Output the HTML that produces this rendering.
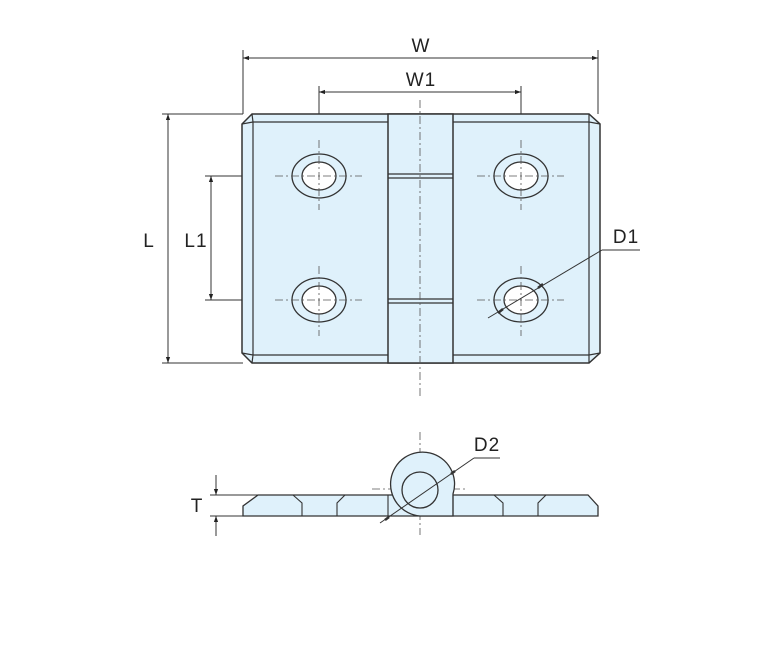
<!DOCTYPE html>
<html><head><style>html,body{margin:0;padding:0;background:#fff}svg{display:block}</style></head>
<body>
<svg width="784" height="668" viewBox="0 0 784 668" xmlns="http://www.w3.org/2000/svg">
<defs>
<marker id="a" viewBox="0 0 10 10" refX="10" refY="5" markerWidth="9" markerHeight="6" orient="auto-start-reverse" markerUnits="userSpaceOnUse"><path d="M0,1.5 L10,5 L0,8.5z" fill="#222"/></marker>
</defs>
<g stroke="#333" stroke-width="1" fill="none">
<line x1="243" y1="50" x2="243" y2="114"/>
<line x1="598" y1="50" x2="598" y2="114"/>
<line x1="319" y1="86" x2="319" y2="150"/>
<line x1="521" y1="86" x2="521" y2="150"/>
<line x1="243" y1="58" x2="598" y2="58" marker-start="url(#a)" marker-end="url(#a)"/>
<line x1="319" y1="92" x2="521" y2="92" marker-start="url(#a)" marker-end="url(#a)"/>
<line x1="162" y1="114" x2="243" y2="114"/>
<line x1="162" y1="363" x2="243" y2="363"/>
<line x1="168" y1="114" x2="168" y2="363" marker-start="url(#a)" marker-end="url(#a)"/>
<line x1="205" y1="176" x2="292" y2="176"/>
<line x1="205" y1="300" x2="292" y2="300"/>
<line x1="211" y1="176" x2="211" y2="300" marker-start="url(#a)" marker-end="url(#a)"/>
</g>
<g stroke="#333" stroke-width="1.5" fill="#dff1fb">
<path d="M252,114 L589,114 L600,124 L600,353 L589,363 L252,363 L242,353 L242,124 Z"/>
<rect x="388" y="114" width="65" height="249"/>
</g>
<g stroke="#333" stroke-width="1.2" fill="none">
<path d="M253,122 L388,122 M453,122 L589,122 M253,355 L388,355 M453,355 L589,355 M253,122 L253,355 M589,122 L589,355"/>
<path d="M242,124 L253,122 L252,114 M242,353 L253,355 L252,363 M600,124 L589,122 L589,114 M600,353 L589,355 L589,363"/>
<path d="M388,174 L453,174 M388,178 L453,178 M388,299 L453,299 M388,303 L453,303"/>
</g>
<g stroke="#333" stroke-width="1.3">
<ellipse cx="319" cy="176" rx="27" ry="22" fill="none"/><ellipse cx="319" cy="176" rx="17" ry="14" fill="#fff"/>
<ellipse cx="319" cy="300" rx="27" ry="22" fill="none"/><ellipse cx="319" cy="300" rx="17" ry="14" fill="#fff"/>
<ellipse cx="521" cy="176" rx="27" ry="22" fill="none"/><ellipse cx="521" cy="176" rx="17" ry="14" fill="#fff"/>
<ellipse cx="521" cy="300" rx="27" ry="22" fill="none"/><ellipse cx="521" cy="300" rx="17" ry="14" fill="#fff"/>
</g>
<g stroke="#555" stroke-width="0.8" stroke-dasharray="8,3,2,3" fill="none">
<path d="M275,176 L362,176 M319,140 L319,210 M275,300 L362,300 M319,266 L319,336"/>
<path d="M477,176 L564,176 M521,140 L521,210 M477,300 L564,300 M521,266 L521,336"/>
<path d="M420,100 L420,398"/>
<path d="M420,432 L420,535 M372,489 L468,489"/>
</g>
<g stroke="#333" stroke-width="1" fill="none">
<line x1="488" y1="318" x2="602" y2="250"/>
<line x1="602" y1="250" x2="640" y2="250"/>
<path d="M503,309 l-5,4 M538,288 l5,-4" stroke-width="2.5"/>
</g>
<g stroke="#333" stroke-width="1.3" fill="#dff1fb">
<path d="M258,495 L588,495 L598,506 L598,516 L243,516 L243,506 Z"/>
<path d="M420,516 A32,32 0 1 1 453,494 L453,516 Z"/>
</g>
<g stroke="#333" stroke-width="1.1" fill="none">
<path d="M293,495 L302,503 L302,516 M345,495 L337,503 L337,516 M494,495 L503,503 L503,516 M546,495 L538,503 L538,516"/>
<line x1="388" y1="495" x2="388" y2="516"/>
<line x1="453" y1="495" x2="453" y2="516"/>
</g>
<circle cx="420" cy="490" r="18" stroke="#333" stroke-width="1.3" fill="#dff1fb"/>
<g stroke="#333" stroke-width="1" fill="none">
<line x1="380" y1="523" x2="474" y2="458"/>
<line x1="474" y1="458" x2="500" y2="458"/>
<path d="M389,517 l-4,3 M451,474 l4,-3" stroke-width="2.5"/>
<line x1="210" y1="495" x2="258" y2="495"/>
<line x1="210" y1="516" x2="243" y2="516"/>
<line x1="216" y1="475" x2="216" y2="495" marker-end="url(#a)"/>
<line x1="216" y1="536" x2="216" y2="516" marker-end="url(#a)"/>
</g>
<g font-family="Liberation Sans, sans-serif" font-size="19" fill="#222" letter-spacing="1">
<text x="421" y="52" text-anchor="middle">W</text>
<text x="421" y="86" text-anchor="middle">W1</text>
<text x="149" y="247" text-anchor="middle">L</text>
<text x="196" y="247" text-anchor="middle">L1</text>
<text x="626" y="243" text-anchor="middle">D1</text>
<text x="487" y="451" text-anchor="middle">D2</text>
<text x="197" y="512" text-anchor="middle">T</text>
</g>
</svg>
</body></html>
